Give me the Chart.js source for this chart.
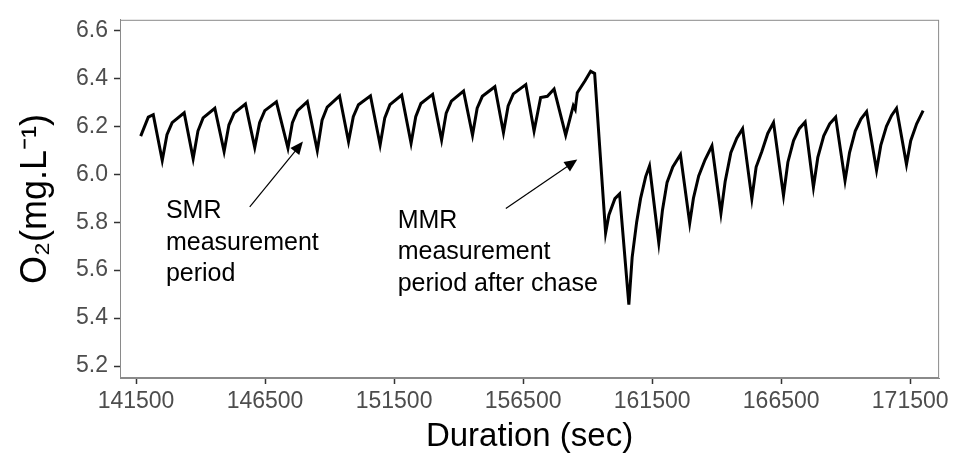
<!DOCTYPE html>
<html>
<head>
<meta charset="utf-8">
<script src="https://cdn.jsdelivr.net/npm/chart.js@4/dist/chart.umd.min.js"></script>
<style>
  html, body { margin: 0; padding: 0; background: #fff; }
  #wrap { width: 953px; height: 457px; }
</style>
</head>
<body>
<div id="wrap"><canvas id="chart" width="953" height="457"></canvas></div>
<script>
// O2 trace (time in sec, O2 in mg/L)
const timeSec = [
  141682, 141976, 142169,
  142517, 142700, 142900, 143367,
  143715, 143900, 144100, 144554,
  144914, 145100, 145300, 145741,
  146101, 146290, 146490, 146940,
  147388, 147560, 147760, 148138,
  148525, 148710, 148910, 149387,
  149735, 149920, 150120, 150585,
  150960, 151140, 151340, 151795,
  152159, 152340, 152540, 152994,
  153342, 153520, 153720, 154192,
  154540, 154720, 154920, 155406,
  155739, 155920, 156120, 156605,
  156925, 157180, 157440, 157700,
  158151, 158445, 158520, 158600, 158900, 159117, 159272,
  159697, 159825, 160057, 160239,
  160598, 160726, 160900, 161051, 161250, 161398,
  161758, 161900, 162079, 162300, 162597,
  162956, 163100, 163304, 163550, 163818,
  164166, 164330, 164550, 164780, 165005,
  165364, 165530, 165751, 165980, 166203,
  166590, 166760, 166980, 167200, 167429,
  167750, 167920, 168150, 168380, 168611,
  168975, 169150, 169370, 169590, 169810,
  170196, 170360, 170580, 170780, 170970,
  171356, 171520, 171750, 172001
];
const o2 = [
  6.159, 6.238, 6.248,
  6.057, 6.165, 6.215, 6.256,
  6.065, 6.180, 6.235, 6.275,
  6.095, 6.205, 6.255, 6.293,
  6.111, 6.215, 6.265, 6.302,
  6.109, 6.215, 6.265, 6.303,
  6.099, 6.225, 6.280, 6.327,
  6.136, 6.240, 6.290, 6.327,
  6.122, 6.235, 6.290, 6.330,
  6.129, 6.240, 6.295, 6.333,
  6.143, 6.255, 6.305, 6.347,
  6.163, 6.275, 6.325, 6.365,
  6.174, 6.285, 6.335, 6.374,
  6.180, 6.320, 6.325, 6.355,
  6.163, 6.286, 6.270, 6.340, 6.390, 6.429, 6.420,
  5.755, 5.830, 5.898, 5.918,
  5.456, 5.653, 5.800, 5.898, 5.990, 6.034,
  5.714, 5.850, 5.966, 6.030, 6.082,
  5.796, 5.900, 5.993, 6.060, 6.118,
  5.837, 5.970, 6.090, 6.150, 6.190,
  5.898, 6.030, 6.095, 6.170, 6.215,
  5.911, 6.050, 6.140, 6.190, 6.218,
  5.946, 6.070, 6.160, 6.210, 6.238,
  5.973, 6.090, 6.180, 6.230, 6.261,
  6.016, 6.120, 6.200, 6.245, 6.275,
  6.041, 6.140, 6.210, 6.265
];
const xTickValues = [141500, 146500, 151500, 156500, 161500, 166500, 171500];
const yTickValues = [5.2, 5.4, 5.6, 5.8, 6.0, 6.2, 6.4, 6.6];

// annotation text and arrows, placed in data units
const notes = [
  { lines: ["SMR", "measurement", "period"], x: 142660, y: 5.816,
    from: [145907, 5.864], to: [147968, 6.136] },
  { lines: ["MMR", "measurement", "period after chase"], x: 151640, y: 5.776,
    from: [155831, 5.857], to: [158599, 6.061] }
];

const FONT = '"Liberation Sans", Arial, sans-serif';

const points = timeSec.map((t, i) => ({ x: t, y: o2[i] }));

const notePlugin = {
  id: "notes",
  afterDraw(chart) {
    const { ctx, scales: { x, y } } = chart;
    ctx.save();
    ctx.fillStyle = "#000";
    ctx.strokeStyle = "#000";
    ctx.font = "25px " + FONT;
    ctx.textBaseline = "alphabetic";
    ctx.textAlign = "left";
    notes.forEach(n => {
      const tx = x.getPixelForValue(n.x), ty = y.getPixelForValue(n.y);
      n.lines.forEach((s, i) => ctx.fillText(s, tx, ty + i * 31.5));
      const x1 = x.getPixelForValue(n.from[0]), y1 = y.getPixelForValue(n.from[1]);
      const x2 = x.getPixelForValue(n.to[0]), y2 = y.getPixelForValue(n.to[1]);
      const ang = Math.atan2(y2 - y1, x2 - x1);
      const hl = 14, hw = 0.42;
      ctx.lineWidth = 1.2;
      ctx.beginPath();
      ctx.moveTo(x1, y1);
      ctx.lineTo(x2 - hl * 0.8 * Math.cos(ang), y2 - hl * 0.8 * Math.sin(ang));
      ctx.stroke();
      ctx.beginPath();
      ctx.moveTo(x2, y2);
      ctx.lineTo(x2 - hl * Math.cos(ang - hw), y2 - hl * Math.sin(ang - hw));
      ctx.lineTo(x2 - hl * Math.cos(ang + hw), y2 - hl * Math.sin(ang + hw));
      ctx.closePath();
      ctx.fill();
    });
    // panel border
    const a = chart.chartArea;
    ctx.strokeStyle = "#8a8a8a";
    ctx.lineWidth = 1;
    ctx.strokeRect(a.left + 0.5, a.top + 0.5, a.right - a.left - 1, a.bottom - a.top - 1);
    ctx.restore();
  }
};

new Chart(document.getElementById("chart"), {
  type: "line",
  data: {
    datasets: [{
      data: points,
      borderColor: "#000",
      borderWidth: 3,
      pointRadius: 0,
      tension: 0,
      fill: false
    }]
  },
  options: {
    responsive: false,
    animation: false,
    layout: { padding: { left: 0, right: 12, top: 12, bottom: 0 } },
    plugins: { legend: { display: false }, tooltip: { enabled: false } },
    scales: {
      x: {
        type: "linear",
        min: 140880,
        max: 172620,
        afterBuildTicks: s => { s.ticks = xTickValues.map(v => ({ value: v })); },
        afterFit: s => { s.height = 79; },
        ticks: {
          callback: v => String(v),
          color: "#4d4d4d",
          font: { family: FONT, size: 23 },
          padding: 4,
          maxRotation: 0,
          autoSkip: false
        },
        grid: { drawOnChartArea: false, drawTicks: true, tickLength: 6, tickColor: "#333", tickWidth: 1.5 },
        border: { display: true, color: "#8a8a8a" },
        title: {
          display: true,
          text: "Duration (sec)",
          color: "#000",
          font: { family: FONT, size: 33 },
          padding: { top: 0, bottom: 0 }
        }
      },
      y: {
        type: "linear",
        min: 5.15,
        max: 6.644,
        afterBuildTicks: s => { s.ticks = yTickValues.map(v => ({ value: v })); },
        afterFit: s => { s.width = 120; },
        ticks: {
          callback: v => v.toFixed(1),
          color: "#4d4d4d",
          font: { family: FONT, size: 23 },
          padding: 6,
          autoSkip: false
        },
        grid: { drawOnChartArea: false, drawTicks: true, tickLength: 6, tickColor: "#333", tickWidth: 1.5 },
        border: { display: true, color: "#8a8a8a" },
        title: {
          display: true,
          text: "O₂(mg.L⁻¹)",
          color: "#000",
          font: { family: FONT, size: 36 },
          padding: { top: 14, bottom: 0 }
        }
      }
    }
  },
  plugins: [notePlugin]
});
</script>
</body>
</html>
